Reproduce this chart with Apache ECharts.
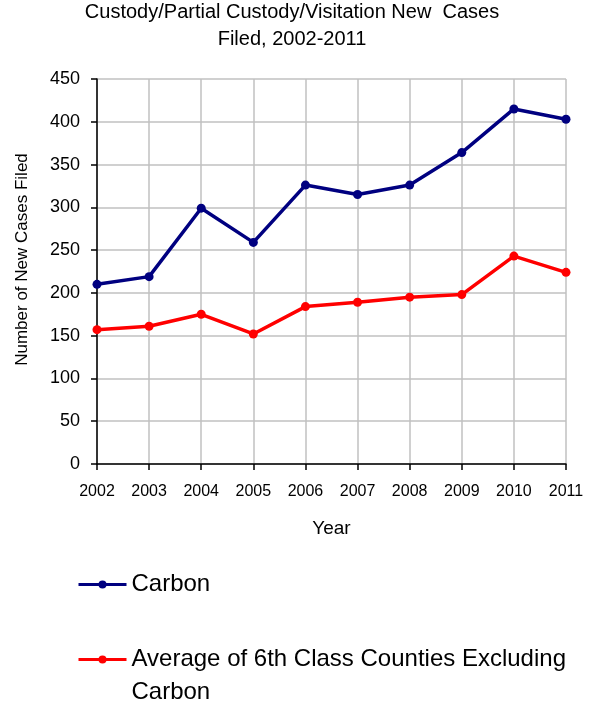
<!DOCTYPE html>
<html>
<head>
<meta charset="utf-8">
<script src="https://cdn.jsdelivr.net/npm/echarts@6/dist/echarts.min.js"></script>
<style>
html,body{margin:0;padding:0;background:#fff;}
#c{width:604px;height:706px;}
</style>
</head>
<body>
<div id="c"></div>
<script>
const years = ['2002','2003','2004','2005','2006','2007','2008','2009','2010','2011'];
const carbon = [210, 219, 299, 259, 326, 315, 326, 364, 415, 403];
const average6th = [157, 161, 175, 152, 184, 189, 195, 198, 243, 224];
const seriesNames = ['Carbon', 'Average of 6th Class Counties Excluding\nCarbon'];
const yTicks = { min: 0, max: 450, interval: 50 };

const FONT = '"Liberation Sans", Arial, sans-serif';
const chart = echarts.init(document.getElementById('c'), null, { renderer: 'canvas' });
const legendBase = {
  orient: 'vertical', left: 77, padding: 0,
  itemWidth: 48, itemHeight: 10,
  lineStyle: { width: 3 },
  textStyle: { fontFamily: FONT, fontSize: 24, color: '#000', lineHeight: 33 }
};
chart.setOption({
  animation: false,
  backgroundColor: '#ffffff',
  title: {
    text: 'Custody/Partial Custody/Visitation New  Cases\nFiled, 2002-2011',
    left: 292,
    top: -1,
    padding: 0,
    textAlign: 'center',
    textStyle: { fontFamily: FONT, fontSize: 20, fontWeight: 'normal', color: '#000', lineHeight: 27 }
  },
  legend: [
    Object.assign({}, legendBase, { top: 568, data: [seriesNames[0]] }),
    Object.assign({}, legendBase, {
      top: 610, data: [seriesNames[1]],
      formatter: function (name) { return '\n' + name; }
    })
  ],
  grid: { left: 97, right: 38, top: 79, bottom: 242, containLabel: false },
  xAxis: {
    type: 'category',
    data: years,
    boundaryGap: false,
    name: 'Year',
    nameLocation: 'middle',
    nameGap: 55,
    nameTextStyle: { fontFamily: FONT, fontSize: 19, color: '#000' },
    axisLine: { lineStyle: { color: '#000', width: 1.5 } },
    axisTick: { show: true, length: 6, inside: false, lineStyle: { color: '#000', width: 1.5 } },
    axisLabel: { fontFamily: FONT, fontSize: 16, color: '#000', margin: 20, interval: 0 },
    splitLine: { show: true, lineStyle: { color: '#c0c0c0', width: 1.5 } }
  },
  yAxis: {
    type: 'value',
    min: yTicks.min, max: yTicks.max, interval: yTicks.interval,
    name: 'Number of New Cases Filed',
    nameLocation: 'middle',
    nameGap: 66,
    nameTextStyle: { fontFamily: FONT, fontSize: 17, color: '#000', padding: [0, 0, 0, 24] },
    axisLine: { show: true, lineStyle: { color: '#000', width: 1.5 } },
    axisTick: { show: true, length: 6, lineStyle: { color: '#000', width: 1.5 } },
    axisLabel: { fontFamily: FONT, fontSize: 18, color: '#000', margin: 17 },
    splitLine: { show: true, lineStyle: { color: '#c0c0c0', width: 1.5 } }
  },
  series: [
    {
      name: seriesNames[0], type: 'line', data: carbon,
      symbol: 'circle', symbolSize: 9,
      lineStyle: { color: '#000080', width: 3.5 },
      itemStyle: { color: '#000080' }
    },
    {
      name: seriesNames[1], type: 'line', data: average6th,
      symbol: 'circle', symbolSize: 9,
      lineStyle: { color: '#ff0000', width: 3.5 },
      itemStyle: { color: '#ff0000' }
    }
  ]
});
</script>
</body>
</html>
